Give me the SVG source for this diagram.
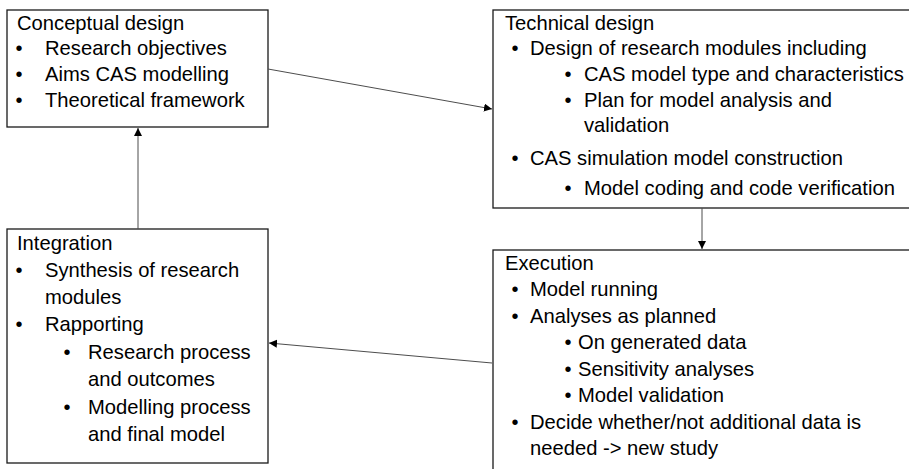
<svg xmlns="http://www.w3.org/2000/svg" width="909" height="469" viewBox="0 0 909 469">
<style>
.box{fill:#fff;stroke:#1a1a1a;stroke-width:1.3}
.t{font-family:"Liberation Sans",Arial,sans-serif;font-size:20.2px;fill:#000}
.b{font-family:"Liberation Sans",Arial,sans-serif;font-size:20px;fill:#000;text-anchor:middle}
.c{stroke:#4d4d4d;stroke-width:1;fill:none;marker-end:url(#ah)}
</style>
<defs>
<marker id="ah" markerUnits="userSpaceOnUse" markerWidth="10" markerHeight="10" refX="8" refY="4" orient="auto">
<path d="M0,0 L8,4 L0,8 z" fill="#000"/>
</marker>
</defs>
<rect width="909" height="469" fill="#fff"/>
<g id="conceptual">
<rect class="box" x="7" y="10" width="261" height="117"/>
<text class="t" x="17" y="30">Conceptual design</text>
<text class="b" x="19" y="55">•</text><text class="t" x="45" y="55">Research objectives</text>
<text class="b" x="19" y="81">•</text><text class="t" x="45" y="81">Aims CAS modelling</text>
<text class="b" x="19" y="107">•</text><text class="t" x="45" y="107">Theoretical framework</text>
</g>
<g id="technical">
<rect class="box" x="493" y="10" width="425" height="198"/>
<text class="t" x="505" y="30">Technical design</text>
<text class="b" x="515" y="55">•</text><text class="t" x="530" y="55">Design of research modules including</text>
<text class="b" x="568" y="81">•</text><text class="t" x="584" y="81">CAS model type and characteristics</text>
<text class="b" x="568" y="107">•</text><text class="t" x="584" y="107">Plan for model analysis and</text>
<text class="t" x="584" y="132">validation</text>
<text class="b" x="515" y="165">•</text><text class="t" x="530" y="165">CAS simulation model construction</text>
<text class="b" x="568" y="195">•</text><text class="t" x="584" y="195">Model coding and code verification</text>
</g>
<g id="execution">
<rect class="box" x="493" y="250" width="425" height="240"/>
<text class="t" x="505" y="270">Execution</text>
<text class="b" x="515" y="296">•</text><text class="t" x="530" y="296">Model running</text>
<text class="b" x="515" y="323">•</text><text class="t" x="530" y="323">Analyses as planned</text>
<text class="b" x="568" y="349">•</text><text class="t" x="578" y="349">On generated data</text>
<text class="b" x="568" y="376">•</text><text class="t" x="578" y="376">Sensitivity analyses</text>
<text class="b" x="568" y="402">•</text><text class="t" x="578" y="402">Model validation</text>
<text class="b" x="515" y="429">•</text><text class="t" x="530" y="429">Decide whether/not additional data is</text>
<text class="t" x="530" y="455">needed -&gt; new study</text>
</g>
<g id="integration">
<rect class="box" x="7" y="229" width="261" height="234"/>
<text class="t" x="17" y="250">Integration</text>
<text class="b" x="19" y="277">•</text><text class="t" x="45" y="277">Synthesis of research</text>
<text class="t" x="45" y="304">modules</text>
<text class="b" x="19" y="331">•</text><text class="t" x="45" y="331">Rapporting</text>
<text class="b" x="67" y="359">•</text><text class="t" x="88" y="359">Research process</text>
<text class="t" x="88" y="386">and outcomes</text>
<text class="b" x="67" y="414">•</text><text class="t" x="88" y="414">Modelling process</text>
<text class="t" x="88" y="441">and final model</text>
</g>
<g id="connectors">
<line class="c" x1="268" y1="69" x2="492" y2="109"/>
<line class="c" x1="702" y1="208" x2="702" y2="249"/>
<line class="c" x1="492" y1="363" x2="269" y2="343"/>
<line class="c" x1="138" y1="229" x2="138" y2="128"/>
</g>
</svg>
